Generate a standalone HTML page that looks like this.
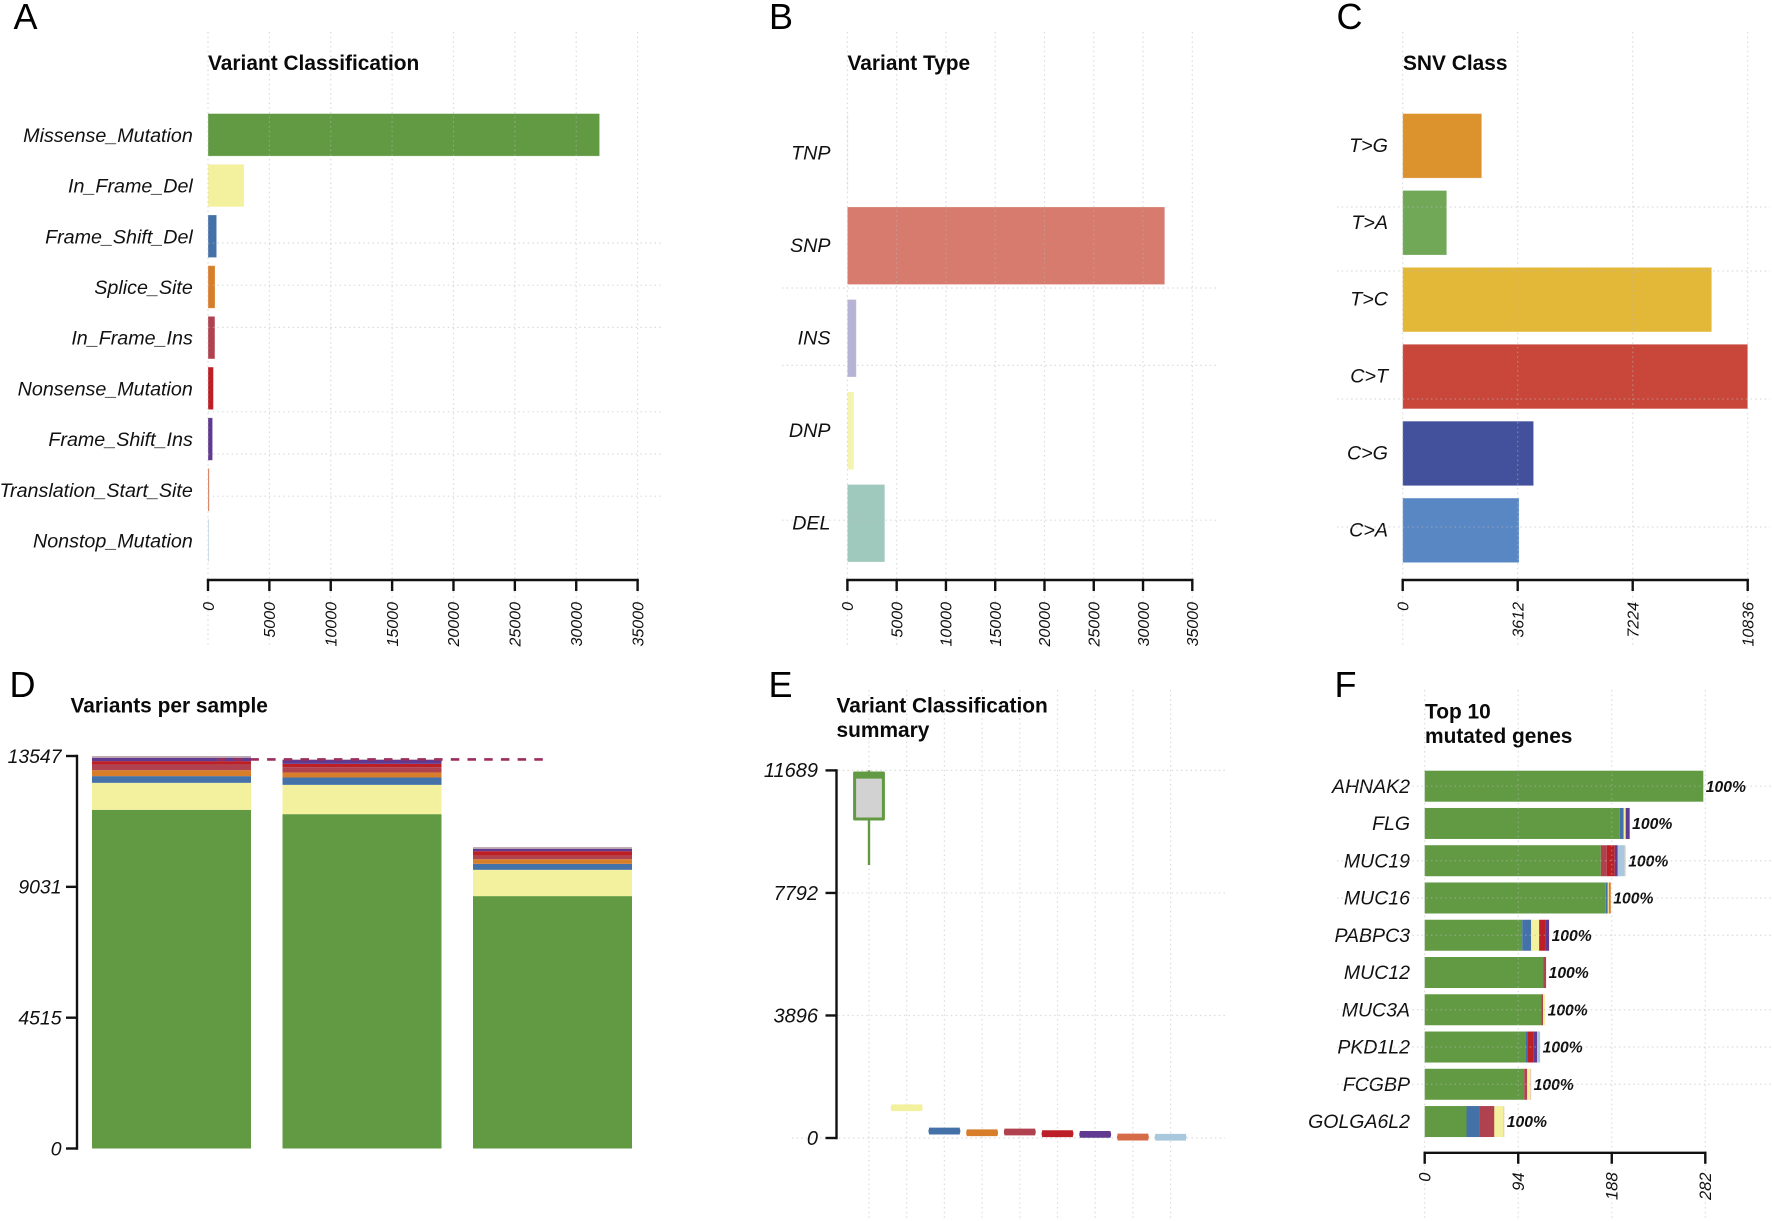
<!DOCTYPE html>
<html lang="en">
<head>
<meta charset="utf-8">
<title>Variant summary figure</title>
<style>
html,body{margin:0;padding:0;background:#fff;}
svg{display:block;font-family:"Liberation Sans",sans-serif;}
.letter{font-size:36px;fill:#000;}
.title{font-size:20.9px;font-weight:bold;fill:#0a0a0a;}
</style>
</head>
<body>
<svg id="figure" xmlns="http://www.w3.org/2000/svg" width="1772" height="1221" viewBox="0 0 1772 1221">
<rect x="0" y="0" width="1772" height="1221" fill="#ffffff"/>
<g id="plots"></g>
<g>
<text class="letter" x="13.5" y="29">A</text>
<text class="letter" x="769" y="29">B</text>
<text class="letter" x="1336.5" y="29">C</text>
<text class="letter" x="9.5" y="697">D</text>
<text class="letter" x="768.5" y="697">E</text>
<text class="letter" x="1334.5" y="697">F</text>
</g>
<g>
<text class="title" x="208" y="70">Variant Classification</text>
<text class="title" x="847.5" y="70">Variant Type</text>
<text class="title" x="1403" y="70">SNV Class</text>
<text class="title" x="70.5" y="712.5">Variants per sample</text>
<text class="title" x="836.5" y="712.5">Variant Classification</text>
<text class="title" x="836.5" y="737">summary</text>
<text class="title" x="1425" y="718.5">Top 10</text>
<text class="title" x="1425" y="743">mutated genes</text>
</g>
</svg>
<script>
/* ---------- Panel A data ---------- */
const classCategories = ['Missense_Mutation','In_Frame_Del','Frame_Shift_Del','Splice_Site','In_Frame_Ins','Nonsense_Mutation','Frame_Shift_Ins','Translation_Start_Site','Nonstop_Mutation'];
const classTotals = [31900,2940,700,570,560,440,370,100,40];
const classTicks = [0,5000,10000,15000,20000,25000,30000,35000];

/* ---------- Panel B data ---------- */
const typeCategories = ['TNP','SNP','INS','DNP','DEL'];
const typeTotals = [60,32200,900,660,3790];
const typeTicks = [0,5000,10000,15000,20000,25000,30000,35000];

/* ---------- Panel C data ---------- */
const snvCategories = ['T>G','T>A','T>C','C>T','C>G','C>A'];
const snvTotals = [2481,1382,9705,10836,4110,3655];
const snvTicks = [0,3612,7224,10836];

/* ---------- Panel D data ---------- */
const sampleIds = ['sample-1','sample-2','sample-3'];
const sampleMissense = [11689,11540,8711];
const sampleInFrameDel = [932,1011,907];
const sampleFrameShiftDel = [231,255,207];
const sampleSplice = [207,173,162];
const sampleInFrameIns = [197,183,128];
const sampleNonsense = [114,114,148];
const sampleFrameShiftIns = [114,138,79];
const sampleOther = [59,20,59];
const sampleTicks = [0,4515,9031,13547];
const sampleMeanLine = [13427];

/* ---------- Panel E data ---------- */
const boxLow = [8681,900,170,120,140,90,70,5,5];
const boxQ1 = [10144,930,190,140,160,110,90,10,10];
const boxMedian = [11534,963,220,168,190,137,115,30,25];
const boxQ3 = [11607,990,250,190,220,160,140,50,40];
const boxHigh = [11689,1010,270,210,240,180,160,70,60];
const boxTicks = [0,3896,7792,11689];

/* ---------- Panel F data ---------- */
const geneNames = ['AHNAK2','FLG','MUC19','MUC16','PABPC3','MUC12','MUC3A','PKD1L2','FCGBP','GOLGA6L2'];
const geneMissense = [280,196,177,182,98,119,117,101,100,42];
const geneFrameShiftDel = [0,4,0,2,9,0,0,2,0,13];
const geneInFrameIns = [0,0,6,0,0,3,2,0,3,15];
const geneInFrameDel = [0,2,0,1,8,0,2,0,3,9];
const geneSplice = [0,0,0,2,0,0,0,0,0,0];
const geneNonsense = [0,0,8,0,6,0,0,6,0,0];
const geneFrameShiftIns = [0,4,3,0,4,0,0,4,0,0];
const geneNonstop = [0,0,7,0,0,0,0,3,0,0];
const geneTranslation = [0,0,1,0,0,0,0,0,1,1];
const genePercent = ['100%','100%','100%','100%','100%','100%','100%','100%','100%','100%'];
const geneTicks = [0,94,188,282];

/* ---------- Palettes ---------- */
const C = {missense:'#619A42',ifd:'#F4F19E',fsd:'#4472A8',splice:'#D87E2A',ifi:'#B0424F',nonsense:'#BC2026',fsi:'#5F3A90',trans:'#D56B47',nonstop:'#A9C8DD'};
const classColors = [C.missense,C.ifd,C.fsd,C.splice,C.ifi,C.nonsense,C.fsi,C.trans,C.nonstop];
const typeColors = ['#DCE4EE','#D67B6D','#B7B3D5','#F4F3AF','#9FC9BC'];
const snvColors = ['#DC922D','#70A858','#E3B838','#C8473A','#43509C','#5987C4'];

/* ---------- Helpers ---------- */
const NS = 'http://www.w3.org/2000/svg';
const plots = document.getElementById('plots');
const GRID = 'rgba(185,185,185,0.5)';
const INK = '#111111';

function make(tag, attrs, parent, text) {
  const el = document.createElementNS(NS, tag);
  for (const k in attrs) el.setAttribute(k, attrs[k]);
  if (text !== undefined) el.textContent = text;
  parent.appendChild(el);
  return el;
}
function linear(d0, d1, r0, r1) {
  return function (v) { return r0 + (v - d0) * (r1 - r0) / (d1 - d0); };
}
function slug(s) {
  return String(s).toLowerCase().replace(/>/g, '-to-').replace(/[^a-z0-9]+/g, '-');
}
function panel(name) {
  const g = make('g', {}, plots);
  
  
  return g;
}
function gridV(parent, scale, ticks, y0, y1) {
  ticks.forEach(function (t) {
    const x = scale(t);
    const el = make('line', {x1:x, x2:x, y1:y0, y2:y1, stroke:GRID, 'stroke-width':1.2, 'stroke-dasharray':'1.5 3.2'}, parent);
    
    
  });
}
function gridH(parent, start, step, indices, x0, x1) {
  indices.forEach(function (i) {
    const y = start + step * i;
    const el = make('line', {x1:x0, x2:x1, y1:y, y2:y, stroke:GRID, 'stroke-width':1.2, 'stroke-dasharray':'1.5 3.2'}, parent);
    
    
  });
}
function xAxis(parent, scale, ticks, axisY, labelTop, fontSize) {
  const first = scale(ticks[0]), last = scale(ticks[ticks.length - 1]);
  const line = make('line', {x1:first - 1.2, x2:last + 1.2, y1:axisY, y2:axisY, stroke:INK, 'stroke-width':2.4}, parent);
  
  
  ticks.forEach(function (t) {
    const x = scale(t);
    const mark = make('line', {x1:x, x2:x, y1:axisY, y2:axisY + 11, stroke:INK, 'stroke-width':2.4}, parent);
    
    
    const bx = x + fontSize * 0.36;
    const label = make('text', {x:bx, y:labelTop, 'text-anchor':'end', 'font-size':fontSize, 'font-style':'italic', fill:INK, transform:'rotate(-90 ' + bx + ' ' + labelTop + ')'}, parent, t);
    
    
  });
}
function yAxis(parent, scale, ticks, axisX, labelRight, fontSize) {
  const y0 = scale(ticks[0]), y1 = scale(ticks[ticks.length - 1]);
  const line = make('line', {x1:axisX, x2:axisX, y1:y0 + 1.2, y2:y1 - 1.2, stroke:INK, 'stroke-width':2.4}, parent);
  
  
  ticks.forEach(function (t) {
    const y = scale(t);
    const mark = make('line', {x1:axisX - 11, x2:axisX, y1:y, y2:y, stroke:INK, 'stroke-width':2.4}, parent);
    
    
    const label = make('text', {x:labelRight, y:y + 6.8, 'text-anchor':'end', 'font-size':fontSize, 'font-style':'italic', fill:INK}, parent, t);
    
    
  });
}
function hBars(parent, cats, vals, colors, scale, top, h, pitch, labelX, baseShift) {
  cats.forEach(function (c, i) {
    const y = top + pitch * i;
    const x0 = scale(0);
    const bar = make('rect', {x:x0, y:y, width:Math.max(scale(vals[i]) - x0, 0.8), height:h, fill:colors[i], stroke:'rgba(255,255,255,0.3)', 'stroke-width':0.8}, parent);
    
    
    const label = make('text', {x:labelX, y:y + h / 2 + baseShift, 'text-anchor':'end', 'font-size':19.7, 'font-style':'italic', fill:INK}, parent, c);
    
    
  });
}

/* ---------- Panel A ---------- */
(function () {
  const g = panel('variant-classification-panel');
  const x = linear(0, 35000, 208, 637.6);
  hBars(g, classCategories, classTotals, classColors, x, 113.6, 42.5, 50.7, 192.8, 7);
  gridV(g, x, classTicks, 32, 646);
  gridH(g, 158.6, 42.2, [2,3,4,6,7,8], 208, 661);
  xAxis(g, x, classTicks, 580, 602, 16);
})();

/* ---------- Panel B ---------- */
(function () {
  const g = panel('variant-type-panel');
  const x = linear(0, 35000, 847.4, 1192.3);
  hBars(g, typeCategories, typeTotals, typeColors, x, 114.5, 77.5, 92.5, 830.5, 6);
  gridV(g, x, typeTicks, 32, 646);
  gridH(g, 288, 77.4, [0,1,3], 782, 1217);
  xAxis(g, x, typeTicks, 580, 602, 16);
})();

/* ---------- Panel C ---------- */
(function () {
  const g = panel('snv-class-panel');
  const x = linear(0, 10836, 1402.7, 1747.7);
  hBars(g, snvCategories, snvTotals, snvColors, x, 113.6, 64.5, 76.9, 1388, 6);
  gridV(g, x, snvTicks, 32, 646);
  gridH(g, 207, 64, [0,1,3,5], 1337, 1770);
  xAxis(g, x, snvTicks, 580, 602, 16);
})();

/* ---------- Panel D ---------- */
(function () {
  const g = panel('variants-per-sample-panel');
  const y = linear(0, 13547, 1148.5, 756);
  const band = linear(0, 1, 92, 282.5);
  const barW = 159;
  const series = [
    ['missense', sampleMissense, C.missense],
    ['in-frame-del', sampleInFrameDel, C.ifd],
    ['frame-shift-del', sampleFrameShiftDel, C.fsd],
    ['splice-site', sampleSplice, C.splice],
    ['in-frame-ins', sampleInFrameIns, C.ifi],
    ['nonsense', sampleNonsense, C.nonsense],
    ['frame-shift-ins', sampleFrameShiftIns, C.fsi],
    ['other', sampleOther, '#B7A0A8']
  ];
  sampleIds.forEach(function (id, i) {
    let total = 0;
    series.forEach(function (s) {
      const v = s[1][i];
      const seg = make('rect', {x:band(i), y:y(total + v), width:barW, height:y(total) - y(total + v), fill:s[2]}, g);
      
      
      total += v;
    });
  });
  const meanY = y(sampleMeanLine[0]);
  const mean = make('line', {x1:217, x2:543, y1:meanY, y2:meanY, stroke:'#9B2D5C', 'stroke-width':2.6, 'stroke-dasharray':'8.5 8.2'}, g);
  
  
  yAxis(g, y, sampleTicks, 77, 61.5, 19.4);
})();

/* ---------- Panel E ---------- */
(function () {
  const g = panel('classification-summary-panel');
  const y = linear(0, 11689, 1138, 770.4);
  const x = linear(0, 1, 869, 906.7);
  const idx = classCategories.map(function (_, i) { return i; });
  gridV(g, x, idx, 690, 1219);
  boxTicks.forEach(function (t) {
    const line = make('line', {x1:t === 0 ? 792 : 838, x2:1225, y1:y(t), y2:y(t), stroke:GRID, 'stroke-width':1.2, 'stroke-dasharray':'1.5 3.2'}, g);
    
    
  });
  classCategories.forEach(function (c, i) {
    const cx = x(i), col = classColors[i];
    const whisker = make('line', {x1:cx, x2:cx, y1:y(boxLow[i]), y2:y(boxHigh[i]), stroke:col, 'stroke-width':2.4}, g);
    
    
    const box = make('rect', {x:cx - 14.4, y:y(boxQ3[i]), width:28.8, height:y(boxQ1[i]) - y(boxQ3[i]), fill:'#D2D2D2', stroke:col, 'stroke-width':3, 'stroke-linejoin':'round'}, g);
    
    
    const median = make('line', {x1:cx - 15.4, x2:cx + 15.4, y1:y(boxMedian[i]), y2:y(boxMedian[i]), stroke:col, 'stroke-width':6.8}, g);
    
    
  });
  yAxis(g, y, boxTicks, 836.5, 818, 20);
})();

/* ---------- Panel F ---------- */
(function () {
  const g = panel('top-mutated-genes-panel');
  const x = linear(0, 282, 1424.7, 1705.3);
  const rowTop = 770.7, rowPitch = 37.26, rowH = 31;
  const series = [
    ['missense', geneMissense, C.missense],
    ['frame-shift-del', geneFrameShiftDel, C.fsd],
    ['in-frame-ins', geneInFrameIns, C.ifi],
    ['in-frame-del', geneInFrameDel, C.ifd],
    ['splice-site', geneSplice, C.splice],
    ['nonsense', geneNonsense, C.nonsense],
    ['frame-shift-ins', geneFrameShiftIns, C.fsi],
    ['nonstop', geneNonstop, C.nonstop],
    ['translation-start', geneTranslation, '#EBC9B0']
  ];
  geneNames.forEach(function (gene, i) {
    const top = rowTop + rowPitch * i;
    let total = 0;
    series.forEach(function (s) {
      const v = s[1][i];
      if (v > 0) {
        const seg = make('rect', {x:x(total), y:top, width:x(total + v) - x(total), height:rowH, fill:s[2]}, g);
        
        
      }
      total += v;
    });
    const name = make('text', {x:1410, y:top + rowH / 2 + 6.6, 'text-anchor':'end', 'font-size':19.5, 'font-style':'italic', fill:INK}, g, gene);
    
    
    const pct = make('text', {x:x(total) + 2.5, y:top + rowH / 2 + 5.6, 'font-size':15.7, 'font-style':'italic', 'font-weight':'bold', fill:INK}, g, genePercent[i]);
    
    
  });
  gridV(g, x, geneTicks, 690, 1219);
  gridH(g, rowTop + rowH / 2, rowPitch, [0,2,3,4,6,7,8], 1337, 1772);
  xAxis(g, x, geneTicks, 1152.8, 1172.5, 16.5);
})();
</script>
</body>
</html>
